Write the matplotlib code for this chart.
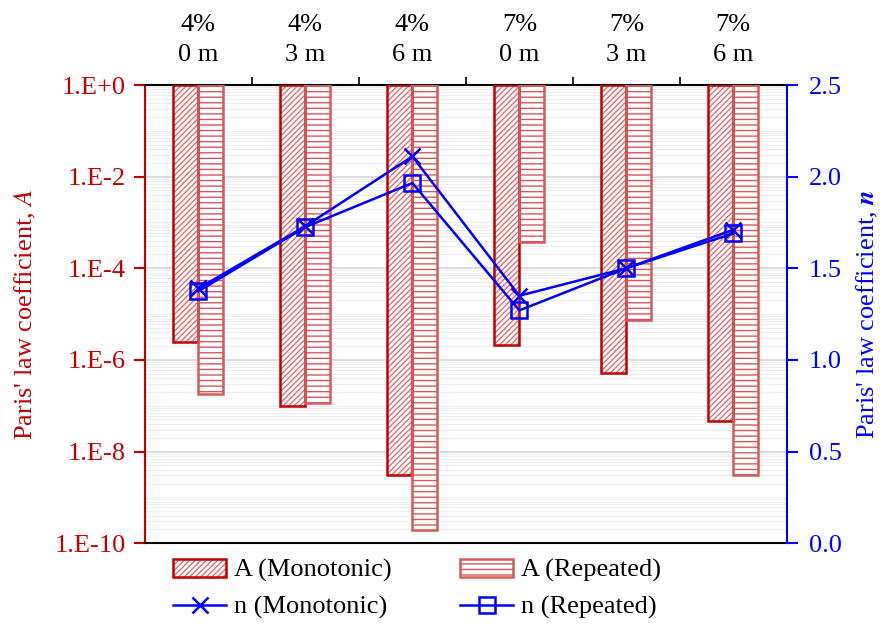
import matplotlib
matplotlib.use('Agg')
import matplotlib.pyplot as plt
import numpy as np
from matplotlib.ticker import FixedLocator, NullFormatter

plt.rcParams['font.family'] = ['Liberation Serif', 'DejaVu Serif']
plt.rcParams['mathtext.fontset'] = 'stix'
plt.rcParams['hatch.linewidth'] = 1.0

# data
groups = ['4%\n0 m', '4%\n3 m', '4%\n6 m', '7%\n0 m', '7%\n3 m', '7%\n6 m']
A_mono = [2.5e-6, 1.0e-7, 3.0e-9, 2.1e-6, 5.1e-7, 4.6e-8]
A_rep = [1.8e-7, 1.15e-7, 1.9e-10, 3.7e-4, 7.4e-6, 3.0e-9]
n_mono = [1.39, 1.73, 2.11, 1.35, 1.50, 1.71]
n_rep = [1.375, 1.725, 1.965, 1.27, 1.50, 1.69]

red = '#C00000'
red_hatch = '#E07070'
red_light = '#D85858'
blue = '#0000FF'
fs = 19

fig = plt.figure(figsize=(8.84, 6.25), dpi=100)
ax = fig.add_axes([0.164, 0.131, 0.726, 0.733])

x = np.arange(len(groups)) + 0.5
w = 0.234

am = np.array(A_mono)
ar = np.array(A_rep)
# hatch in a lighter red, outline in dark red
h1 = ax.bar(x - w / 2, 1 - am, bottom=am, width=w, color='white', edgecolor=red_hatch,
            hatch='//////', linewidth=0, zorder=3)
b1 = ax.bar(x - w / 2, 1 - am, bottom=am, width=w, fill=False, edgecolor=red,
            linewidth=1.8, zorder=4)
h2 = ax.bar(x + w / 2, 1 - ar, bottom=ar, width=w, color='white', edgecolor=red_light,
            hatch='---', linewidth=0, zorder=3)
b2 = ax.bar(x + w / 2, 1 - ar, bottom=ar, width=w, fill=False, edgecolor=red_light,
            linewidth=1.8, zorder=4)

ax.set_yscale('log')
ax.set_ylim(1e-10, 1)
ax.set_xlim(0, len(groups))
ax.yaxis.set_major_locator(FixedLocator([10.0 ** -k for k in range(0, 11, 2)]))
ax.yaxis.set_minor_locator(FixedLocator([m * 10.0 ** -k for k in range(1, 11) for m in range(1, 10)]))
ax.yaxis.set_minor_formatter(NullFormatter())
ax.set_yticklabels(['1.E+0', '1.E-2', '1.E-4', '1.E-6', '1.E-8', '1.E-10'])
ax.tick_params(axis='y', which='major', colors=red, labelsize=fs, length=8, width=1.5, pad=6)
ax.tick_params(axis='y', which='minor', length=0)
ax.grid(axis='y', which='major', color='#d8d8d8', linewidth=1.2, zorder=0)
ax.grid(axis='y', which='minor', color='#eeeeee', linewidth=0.8, zorder=0)
ax.set_axisbelow(True)
ax.set_ylabel("Paris' law coefficient, $\\mathit{A}$", color=red, fontsize=fs, labelpad=12)

# top axis with group labels
ax.xaxis.tick_top()
ax.set_xticks(np.arange(1, len(groups)))
ax.set_xticklabels([])
ax.set_xticks(x, minor=True)
ax.set_xticklabels(groups, minor=True, fontsize=fs, linespacing=1.45)
ax.tick_params(axis='x', which='major', length=6, width=1.2, direction='out')
ax.tick_params(axis='x', which='minor', length=0, pad=14)

ax.spines['left'].set_color(red)
ax.spines['left'].set_linewidth(1.5)
ax.spines['top'].set_linewidth(1.5)
ax.spines['bottom'].set_linewidth(1.5)
ax.spines['right'].set_visible(False)

ax2 = ax.twinx()
l1, = ax2.plot(x, n_mono, color=blue, marker='x', markersize=11, markeredgewidth=1.8,
               linewidth=1.8, label='n (Monotonic)')
l2, = ax2.plot(x, n_rep, color=blue, marker='s', markersize=11, markerfacecolor='none',
               markeredgewidth=1.8, linewidth=1.8, label='n (Repeated)')
ax2.set_ylim(0, 2.5)
ax2.set_yticks([0, 0.5, 1.0, 1.5, 2.0, 2.5])
ax2.set_yticklabels(['0.0', '0.5', '1.0', '1.5', '2.0', '2.5'])
ax2.tick_params(axis='y', colors=blue, labelsize=fs, length=8, width=1.5, pad=8)
ax2.set_ylabel("Paris' law coefficient, $\\mathbfit{n}$", color=blue, fontsize=fs, labelpad=9)
for s in ['left', 'top', 'bottom']:
    ax2.spines[s].set_visible(False)
ax2.spines['right'].set_color(blue)
ax2.spines['right'].set_linewidth(1.5)

ax.set_zorder(1)
ax2.set_zorder(2)

fig.legend([(h1, b1), l1, (h2, b2), l2],
           ['A (Monotonic)', 'n (Monotonic)', 'A (Repeated)', 'n (Repeated)'],
           ncol=2, loc='center', bbox_to_anchor=(0.472, 0.0576), frameon=False,
           fontsize=fs, columnspacing=2.6, handlelength=2.0, handletextpad=0.3,
           labelspacing=0.5)

fig.savefig('out.png', dpi=100)
